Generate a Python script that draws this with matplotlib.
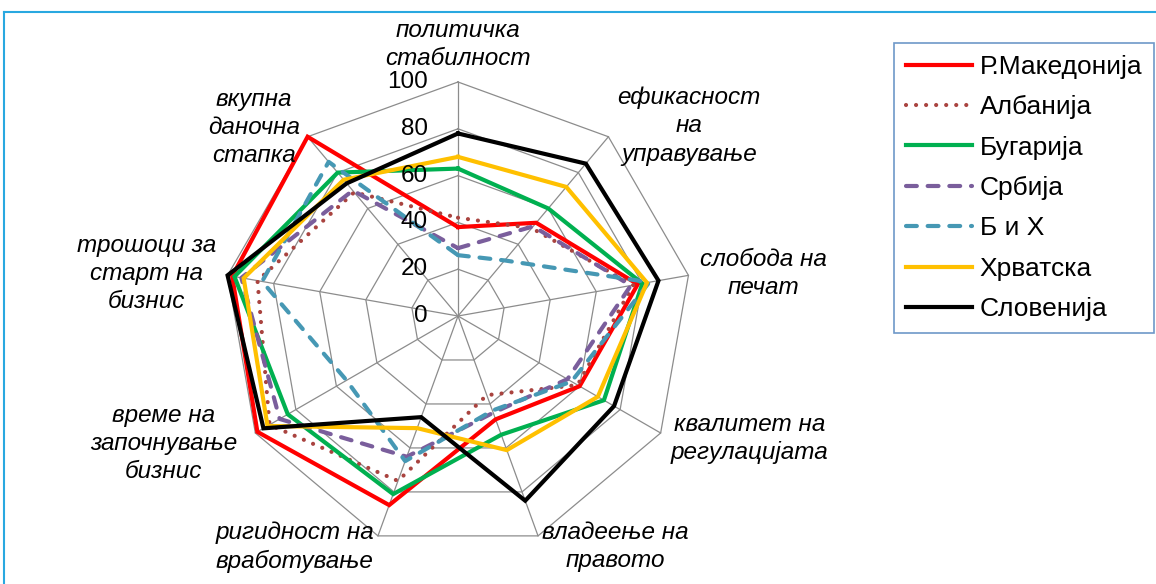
import numpy as np
import matplotlib.pyplot as plt
from matplotlib.lines import Line2D

# categories, clockwise from the top
categories = ['политичка\nстабилност', 'ефикасност\nна\nуправување', 'слобода на\nпечат',
              'квалитет на\nрегулацијата', 'владеење на\nправото', 'ригидност на\nвработување',
              'време на\nзапочнување\nбизнис', 'трошоци за\nстарт на\nбизнис', 'вкупна\nданочна\nстапка']

names = ['Р.Македонија', 'Албанија', 'Бугарија', 'Србија', 'Б и Х', 'Хрватска', 'Словенија']

makedonija = [38, 52, 78, 60, 47, 86, 99, 98, 100]
albanija = [42, 49, 76, 59, 36, 75, 93, 87, 69]
bugarija = [63, 60, 80, 72, 54, 81, 84, 97, 80]
srbija = [29, 50, 75, 54, 44, 64, 88, 94, 70]
bih = [26, 31, 83, 56, 43, 66, 55, 85, 86]
hrvatska = [68, 72, 82, 69, 61, 51, 94, 93, 76]
slovenija = [78, 85, 87, 77, 84, 46, 96, 100, 74]

ticks = [0, 20, 40, 60, 80, 100]

series = [makedonija, albanija, bugarija, srbija, bih, hrvatska, slovenija]
colors = ['#FF0000', '#A9433F', '#00B050', '#7A5E9C', '#4698B4', '#FFC000', '#000000']
styles = ['-', (0, (0.01, 2.4)), '-', (0, (2.6, 2.6)), (0, (2.6, 2.6)), '-', '-']

plt.rcParams['font.family'] = ['Liberation Sans', 'DejaVu Sans']

fig = plt.figure(figsize=(11.56, 5.84), dpi=100)
ax = fig.add_axes([0, 0, 1, 1])
scale = 2.34  # px per unit
cx, cy = 458, 316
ax.set_xlim(-cx / scale, (1156 - cx) / scale)
ax.set_ylim((cy - 584) / scale, cy / scale)
ax.axis('off')

n = len(categories)
ang = np.deg2rad(90 - 360 / n * np.arange(n))
ca, sa = np.cos(ang), np.sin(ang)

# grid
for t in ticks[1:]:
    ax.plot(np.append(t * ca, t * ca[0]), np.append(t * sa, t * sa[0]),
            color='#8C8C8C', lw=0.9, zorder=1)
for i in range(n):
    ax.plot([0, 100 * ca[i]], [0, 100 * sa[i]], color='#8C8C8C', lw=0.9, zorder=1)

for t in ticks:
    ax.text(-13, t, str(t), ha='right', va='center', fontsize=17.5, zorder=5)

# series
for vals, name, c, ls in zip(series, names, colors, styles):
    v = np.array(vals + vals[:1], dtype=float)
    a = np.append(ang, ang[0])
    ax.plot(v * np.cos(a), v * np.sin(a), color=c, lw=3.0, linestyle=ls,
            dash_capstyle='round', solid_joinstyle='miter', label=name, zorder=3)

# category labels
lab_r = [105, 106, 105, 105, 105, 105, 109, 105, 105]
for i, lab in enumerate(categories):
    x, y = lab_r[i] * ca[i], lab_r[i] * sa[i]
    if abs(ca[i]) < 0.1:
        ha, va = 'center', 'bottom'
    elif ca[i] > 0:
        ha, va = 'left', 'center'
    else:
        ha, va = 'right', 'center'
    ax.text(x, y, lab, ha=ha, va=va, multialignment='center', fontsize=17.5,
            style='italic', linespacing=1.28)

leg = ax.legend(loc='upper left', bbox_to_anchor=(894 / 1156, 1 - 43 / 584),
                bbox_transform=fig.transFigure, fontsize=19, frameon=True,
                fancybox=False, handlelength=2.5, handletextpad=0.3,
                labelspacing=0.62, borderpad=0.45, borderaxespad=0)
leg.get_frame().set_edgecolor('#4A7EBB')
leg.get_frame().set_linewidth(1.2)

# outer frame of the chart area
fig.add_artist(Line2D([4 / 1156, 1], [1 - 12 / 584, 1 - 12 / 584], color='#29A8E0', lw=1.5))
fig.add_artist(Line2D([4 / 1156, 4 / 1156], [0, 1 - 12 / 584], color='#29A8E0', lw=1.5))

fig.savefig('out.png', dpi=100)
